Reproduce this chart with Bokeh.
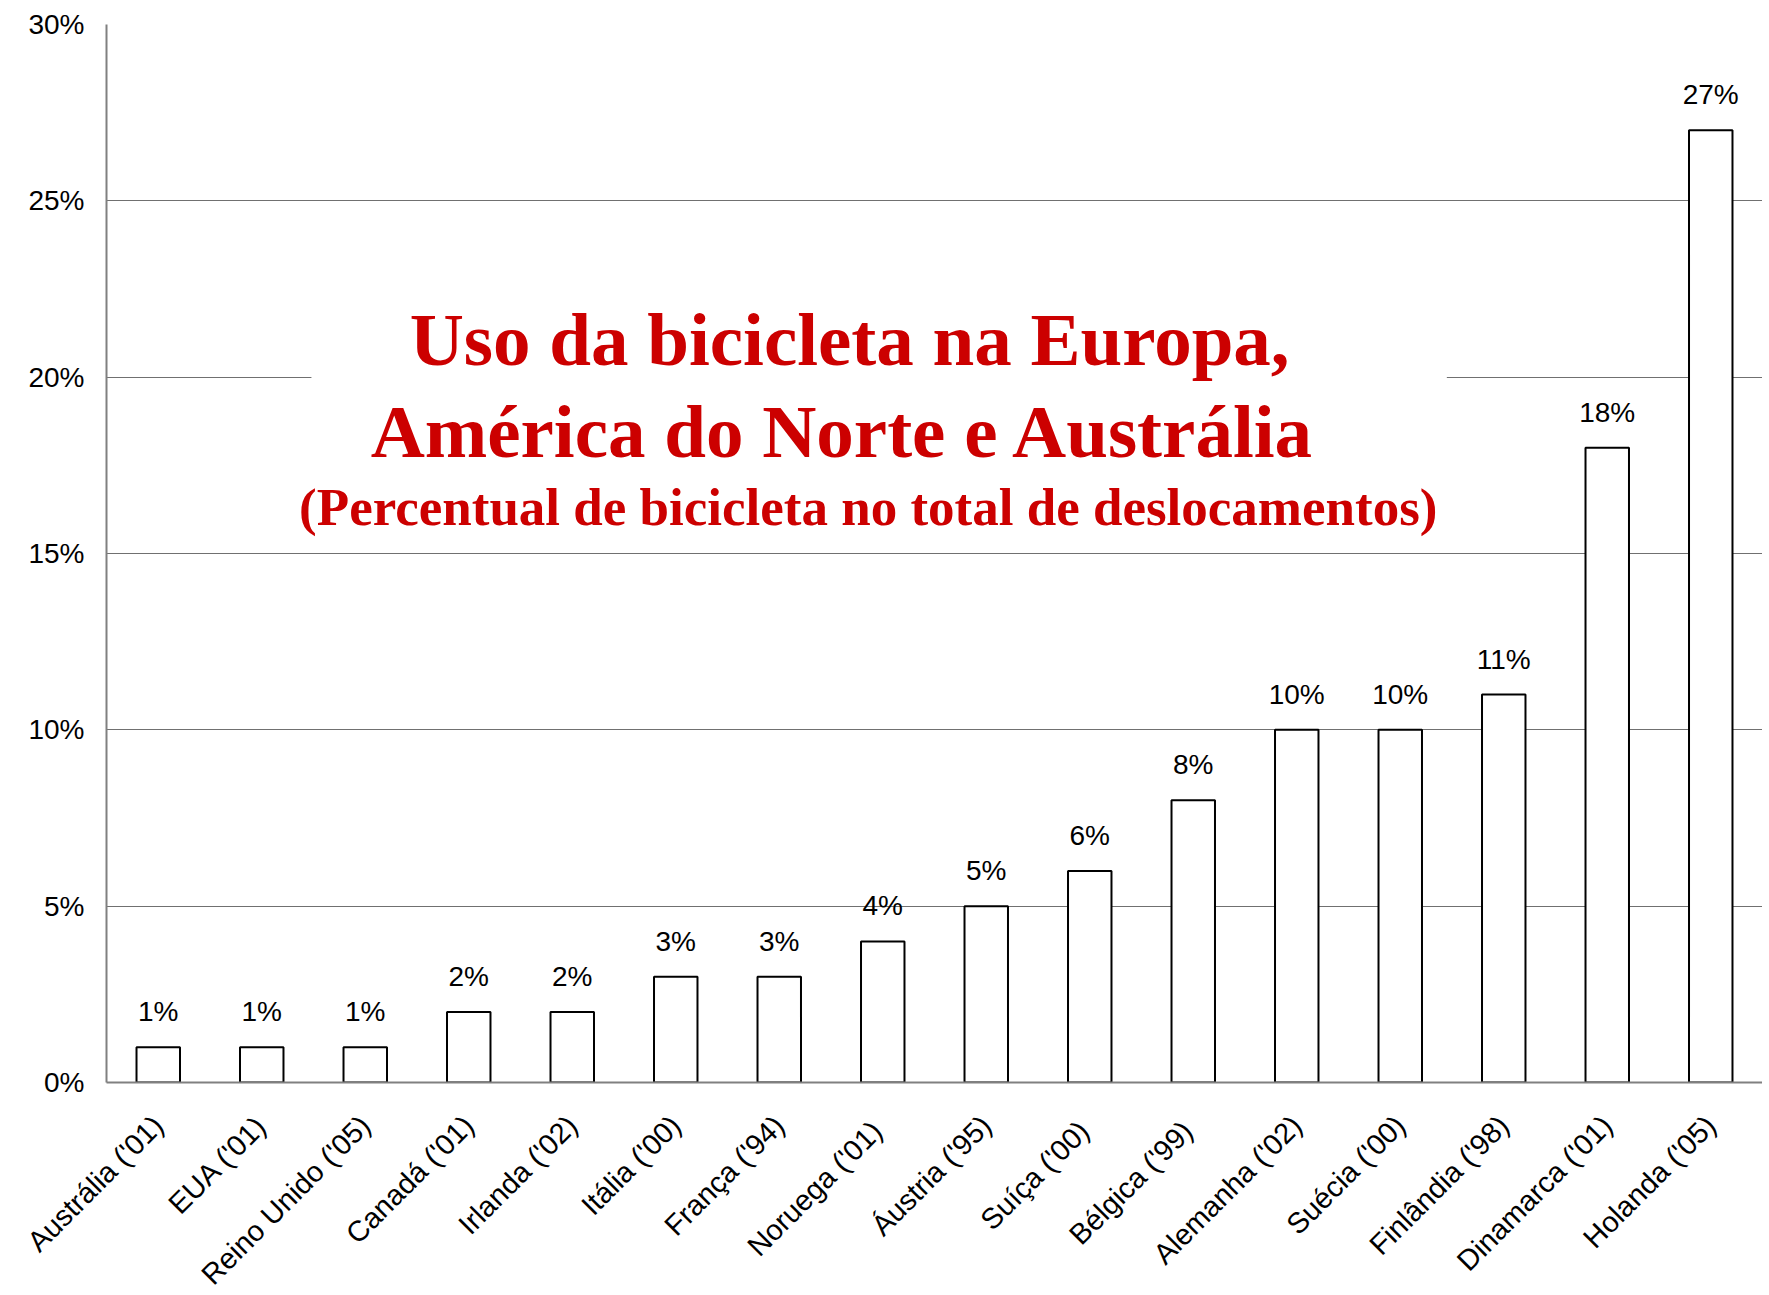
from bokeh.plotting import figure
from bokeh.models import (ColumnDataSource, FactorRange, Range1d, LabelSet, Label,
                          BoxAnnotation, PrintfTickFormatter, FixedTicker)
from bokeh.core.properties import value
from bokeh.embed import file_html
from bokeh.resources import INLINE
import math

countries = ["Austrália ('01)", "EUA ('01)", "Reino Unido ('05)", "Canadá ('01)",
             "Irlanda ('02)", "Itália ('00)", "França ('94)", "Noruega  ('01)",
             "Áustria ('95)", "Suíça  ('00)", "Bélgica  ('99)", "Alemanha ('02)",
             "Suécia ('00)", "Finlândia ('98)", "Dinamarca ('01)", "Holanda ('05)"]
shares = [1, 1, 1, 2, 2, 3, 3, 4, 5, 6, 8, 10, 10, 11, 18, 27]
y_ticks = [0, 5, 10, 15, 20, 25, 30]
title_lines = ["Uso da bicicleta na Europa,",
               "América do Norte e Austrália",
               "(Percentual de bicicleta no total de deslocamentos)"]

src = ColumnDataSource(dict(cat=countries, val=shares,
                            lab=[f"{v}%" for v in shares]))

p = figure(x_range=FactorRange(factors=countries, range_padding=0),
           y_range=Range1d(0, 30),
           frame_width=1656, frame_height=1058,
           min_border_left=106, min_border_right=0, min_border_top=24,
           min_border_bottom=190,
           output_backend="svg", toolbar_location=None)
p.outline_line_color = None
p.background_fill_color = "white"

p.vbar(x="cat", top="val", width=0.42, source=src, fill_color="white",
       line_color="black", line_width=2)

labels = LabelSet(x="cat", y="val", text="lab", source=src, text_align="center",
                  text_baseline="alphabetic", y_offset=26,
                  text_font=value("Liberation Sans"), text_font_size="28px",
                  text_color="black")
p.add_layout(labels)

# axes
p.yaxis.ticker = FixedTicker(ticks=y_ticks)
p.yaxis.formatter = PrintfTickFormatter(format="%d%%")
for ax in (p.xaxis[0], p.yaxis[0]):
    ax.axis_line_color = "#808080"
    ax.axis_line_width = 2
    ax.major_tick_line_color = None
    ax.minor_tick_line_color = None
    ax.major_tick_out = 0
    ax.major_tick_in = 0
    ax.major_label_text_font = "Liberation Sans"
    ax.major_label_text_color = "black"
p.yaxis.major_label_standoff = 22
p.yaxis.major_label_text_font_size = "28px"
p.xaxis.major_label_text_font_size = "29px"
p.xaxis.major_label_orientation = math.pi / 4
p.xaxis.major_label_text_baseline = "bottom"
p.xaxis.major_label_standoff = 38

p.xgrid.grid_line_color = None
p.ygrid.ticker = FixedTicker(ticks=y_ticks[1:-1])
p.ygrid.grid_line_color = "#707070"
p.ygrid.grid_line_width = 1

# white panel behind the title
p.add_layout(BoxAnnotation(left=1.98, right=12.95, bottom=19, top=21,
                           fill_color="white", fill_alpha=1, line_color=None))

title_pos = [(7.18, 21.06, "75px"), (7.12, 18.45, "75px"), (7.36, 16.32, "53px")]
for txt, (tx, ty, fs) in zip(title_lines, title_pos):
    p.add_layout(Label(x=tx, y=ty, text=txt, text_align="center",
                       text_baseline="alphabetic", text_font="Liberation Serif",
                       text_font_style="bold", text_font_size=fs,
                       text_color="#CC0000"))

open("out.html", "w").write(file_html(p, INLINE))
